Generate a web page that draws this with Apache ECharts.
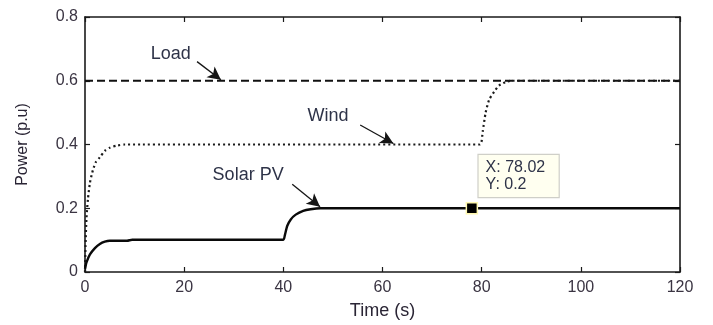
<!DOCTYPE html>
<html>
<head>
<meta charset="utf-8">
<script src="https://cdn.jsdelivr.net/npm/echarts@6/dist/echarts.min.js"></script>
<style>
  html, body { margin: 0; padding: 0; background: #ffffff; }
  #chart { width: 713px; height: 325px; }
</style>
</head>
<body>
<div id="chart"></div>
<script>
// Power balance of a hybrid system over time (per-unit)
const xTicks = [0, 20, 40, 60, 80, 100, 120];
const yTicks = [0, 0.2, 0.4, 0.6, 0.8];

// Load demand: constant
const loadTime = [0, 120];
const loadPower = [0.6, 0.6];

// Wind generation: ramps to 0.4, steps up to 0.6 around t = 80 s
const windTime = [0, 0.1, 0.3, 0.6, 1, 1.6, 2.2, 3, 4, 5, 6.5, 8, 79.6, 80.2, 80.8, 81.5, 82.5, 83.5, 85, 86, 120];
const windPower = [0, 0.08, 0.17, 0.23, 0.28, 0.32, 0.345, 0.36, 0.38, 0.39, 0.397, 0.4, 0.4, 0.44, 0.5, 0.54, 0.565, 0.585, 0.597, 0.6, 0.6];

// Solar PV generation: ramps to 0.1, steps up to 0.2 around t = 40 s
const solarTime = [0, 0.3, 1, 2, 3, 4, 5, 6, 8.5, 9.5, 40, 40.3, 40.8, 41.5, 42.5, 44, 45.5, 47.5, 120];
const solarPower = [0.01, 0.03, 0.055, 0.075, 0.088, 0.095, 0.098, 0.098, 0.098, 0.101, 0.101, 0.115, 0.145, 0.165, 0.18, 0.192, 0.197, 0.2, 0.2];

// Data cursor on the solar curve
const tipX = 78.02;
const tipY = 0.2;

const zip = (a, b) => a.map((v, i) => [v, b[i]]);

const FONT = '"Liberation Sans", Arial, sans-serif';
const AXIS_COLOR = '#1a1a1a';
const TICK_TEXT = '#3a3442';
const NOTE_TEXT = '#2e3348';

function noteLabel(text, coord) {
  return {
    coord: coord,
    symbol: 'circle',
    symbolSize: 0,
    label: {
      show: true, position: 'inside', formatter: text,
      color: NOTE_TEXT, fontFamily: FONT, fontSize: 18
    }
  };
}
function arrow(from, to) {
  return [{ coord: from }, { coord: to }];
}
const arrowStyle = {
  silent: true,
  symbol: ['none', 'arrow'],
  symbolSize: [10, 13],
  label: { show: false },
  lineStyle: { type: 'solid', color: '#151515', width: 1.3 },
  emphasis: { disabled: true },
  animation: false
};

const axisBase = {
  type: 'value',
  axisLine: { show: true, onZero: false, lineStyle: { color: AXIS_COLOR, width: 1.6 } },
  axisTick: { show: true, inside: true, length: 5, lineStyle: { color: AXIS_COLOR, width: 1.2 } },
  splitLine: { show: false }
};

const chart = echarts.init(document.getElementById('chart'), null, { renderer: 'canvas' });
chart.setOption({
  animation: false,
  backgroundColor: '#ffffff',
  grid: { left: 85, right: 33, top: 17, bottom: 47 },
  xAxis: [
    Object.assign({}, axisBase, {
      min: xTicks[0], max: xTicks[xTicks.length - 1], interval: xTicks[1] - xTicks[0],
      position: 'bottom',
      name: 'Time (s)', nameLocation: 'middle', nameGap: 30,
      nameTextStyle: { color: '#2a2535', fontFamily: FONT, fontSize: 18 },
      axisLabel: { color: TICK_TEXT, fontFamily: FONT, fontSize: 16, margin: 8 }
    }),
    Object.assign({}, axisBase, {
      min: xTicks[0], max: xTicks[xTicks.length - 1], interval: xTicks[1] - xTicks[0],
      position: 'top', axisLabel: { show: false }
    })
  ],
  yAxis: [
    Object.assign({}, axisBase, {
      min: yTicks[0], max: yTicks[yTicks.length - 1], interval: yTicks[1] - yTicks[0],
      position: 'left',
      name: 'Power (p.u)', nameLocation: 'middle', nameGap: 54,
      nameTextStyle: { color: '#2a2535', fontFamily: FONT, fontSize: 16 },
      axisLabel: {
        color: TICK_TEXT, fontFamily: FONT, fontSize: 16, margin: 7,
        formatter: v => String(Math.round(v * 10) / 10)
      }
    }),
    Object.assign({}, axisBase, {
      min: yTicks[0], max: yTicks[yTicks.length - 1], interval: yTicks[1] - yTicks[0],
      position: 'right', axisLabel: { show: false }
    })
  ],
  series: [
    {
      name: 'Load', type: 'line', showSymbol: false, smooth: false,
      data: zip(loadTime, loadPower),
      lineStyle: { color: '#111', width: 2, type: [8, 4] },
      markPoint: { silent: true, animation: false, data: [noteLabel('Load', [17.3, 0.684])] },
      markLine: Object.assign({}, arrowStyle, { data: [arrow([22.6, 0.66], [27.4, 0.603])] })
    },
    {
      name: 'Wind', type: 'line', showSymbol: false, smooth: 0.2,
      data: zip(windTime, windPower),
      lineStyle: { color: '#1a1a1a', width: 2.2, type: [2, 3] },
      markPoint: { silent: true, animation: false, data: [noteLabel('Wind', [49.0, 0.489])] },
      markLine: Object.assign({}, arrowStyle, { data: [arrow([55.5, 0.461], [62.2, 0.403])] })
    },
    {
      name: 'Solar PV', type: 'line', showSymbol: false, smooth: 0.2,
      data: zip(solarTime, solarPower),
      lineStyle: { color: '#0a0a0a', width: 2.4, type: 'solid' },
      markPoint: {
        silent: true, animation: false,
        data: [
          noteLabel('Solar PV', [32.9, 0.305]),
          {
            coord: [tipX, tipY],
            symbol: 'rect', symbolSize: 11,
            itemStyle: { color: '#000', borderColor: '#fff8b0', borderWidth: 1.5 },
            label: {
              show: true,
              formatter: 'X: ' + tipX + '\nY: ' + tipY,
              position: [13, -47], align: 'left', verticalAlign: 'top',
              color: NOTE_TEXT, fontFamily: FONT, fontSize: 16, lineHeight: 17,
              backgroundColor: '#fffff0', borderColor: '#cfcfc8', borderWidth: 1.2,
              padding: [4, 7], width: 66
            }
          }
        ]
      },
      markLine: Object.assign({}, arrowStyle, { data: [arrow([41.8, 0.275], [47.4, 0.205])] })
    }
  ]
});
</script>
</body>
</html>
